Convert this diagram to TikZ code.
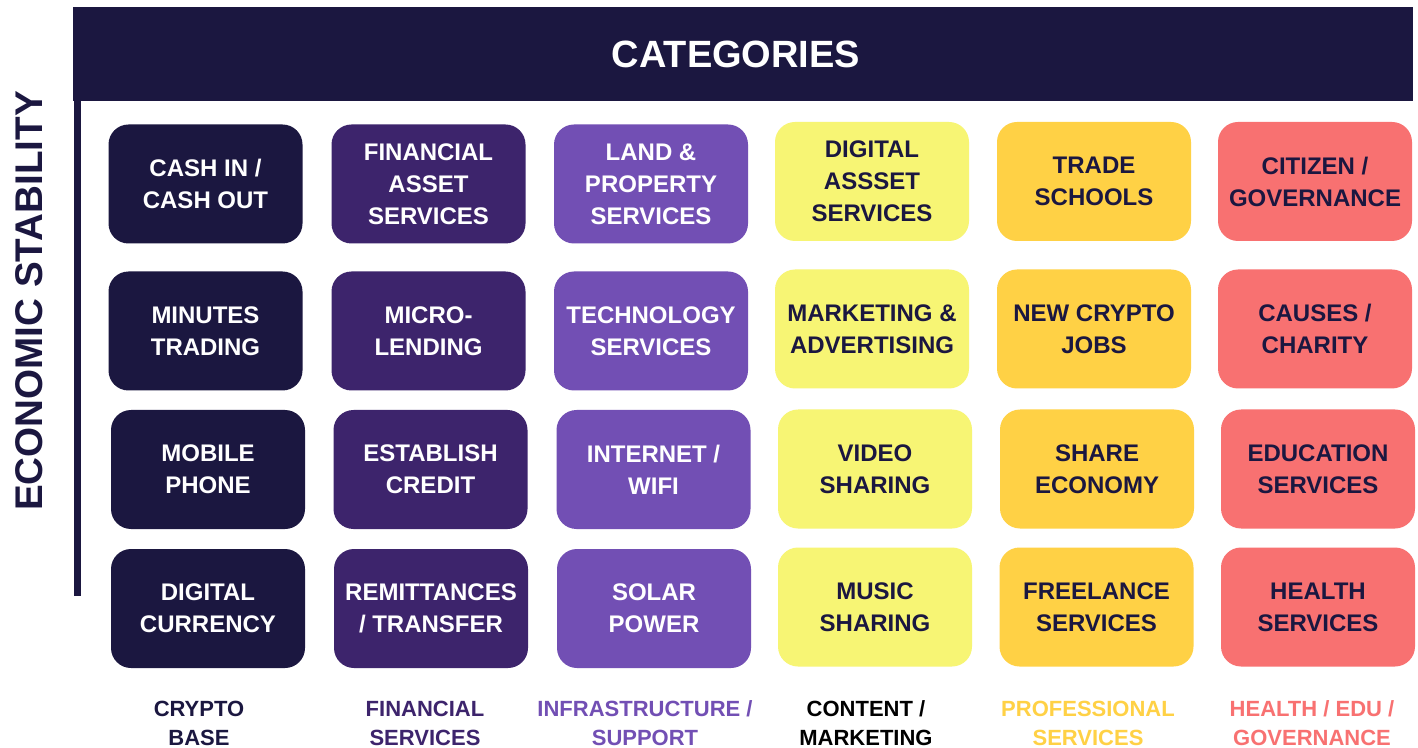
\documentclass[tikz,border=0pt]{standalone}
\usepackage{fontspec}
\setmainfont{Liberation Sans}
\definecolor{navy}{HTML}{1B1740}
\definecolor{dpurple}{HTML}{3D246C}
\definecolor{mpurple}{HTML}{724FB4}
\definecolor{yel}{HTML}{F7F574}
\definecolor{gold}{HTML}{FFD145}
\definecolor{salmon}{HTML}{F87171}
\begin{document}
\begin{tikzpicture}[x=0.5pt,y=0.5pt,
  cell/.style={rounded corners=10pt, minimum width=97pt, minimum height=59.5pt, inner sep=0pt, align=center,
    font=\fontsize{12}{16}\selectfont\bfseries},
  cA/.style={cell, fill=navy, text=white},
  cB/.style={cell, fill=dpurple, text=white},
  cC/.style={cell, fill=mpurple, text=white},
  cD/.style={cell, fill=yel, text=navy},
  cE/.style={cell, fill=gold, text=navy},
  cF/.style={cell, fill=salmon, text=navy},
  foot/.style={align=center, inner sep=0pt, font=\fontsize{11}{14.5}\selectfont\bfseries}]
\useasboundingbox (0,0) rectangle (1418,-748);
\fill[white] (0,0) rectangle (1418,-748);
% header
\node[fill=navy, minimum width=670pt, minimum height=47pt, inner sep=0pt, text=white,
  font=\fontsize{19}{19}\selectfont\bfseries] (head) at (743,-54) {CATEGORIES\hspace*{7pt}};
% vertical axis line
\coordinate (ltop) at (77,-101);
\coordinate (lbot) at (77,-596);
\draw[navy, line width=3.5pt] (ltop) -- (lbot);
\node[rotate=90, text=navy, inner sep=0pt, font=\fontsize{19.3}{19.3}\selectfont\bfseries] (axis) at (29,-301) {ECONOMIC STABILITY};
% row 1
\node[cA] (a1) at (205.5,-184) {CASH IN /\\CASH OUT};
\node[cB] (b1) at (428.5,-184) {FINANCIAL\\ASSET\\SERVICES};
\node[cC] (c1) at (651,-184) {LAND \&\\PROPERTY\\SERVICES};
\node[cD] (d1) at (872,-181.5) {DIGITAL\\ASSSET\\SERVICES};
\node[cE] (e1) at (1094,-181.5) {TRADE\\SCHOOLS};
\node[cF] (f1) at (1315,-181.5) {CITIZEN /\\GOVERNANCE};
% row 2
\node[cA] (a2) at (205.5,-331) {MINUTES\\TRADING};
\node[cB] (b2) at (428.5,-331) {MICRO-\\LENDING};
\node[cC] (c2) at (651,-331) {TECHNOLOGY\\SERVICES};
\node[cD] (d2) at (872,-329) {MARKETING \&\\ADVERTISING};
\node[cE] (e2) at (1094,-329) {NEW CRYPTO\\JOBS};
\node[cF] (f2) at (1315,-329) {CAUSES /\\CHARITY};
% row 3
\node[cA] (a3) at (208,-469.5) {MOBILE\\PHONE};
\node[cB] (b3) at (430.5,-469.5) {ESTABLISH\\CREDIT};
\node[cC] (c3) at (653.5,-469.5) {INTERNET /\\WIFI};
\node[cD] (d3) at (875,-469) {VIDEO\\SHARING};
\node[cE] (e3) at (1097,-469) {SHARE\\ECONOMY};
\node[cF] (f3) at (1318,-469) {EDUCATION\\SERVICES};
% row 4
\node[cA] (a4) at (208,-608.5) {DIGITAL\\CURRENCY};
\node[cB] (b4) at (431,-608.5) {REMITTANCES\\/ TRANSFER};
\node[cC] (c4) at (654,-608.5) {SOLAR\\POWER};
\node[cD] (d4) at (875,-607) {MUSIC\\SHARING};
\node[cE] (e4) at (1096.5,-607) {FREELANCE\\SERVICES};
\node[cF] (f4) at (1318,-607) {HEALTH\\SERVICES};
% footer labels
\node[foot, text=navy] (la) at (199,-723.5) {CRYPTO\\BASE};
\node[foot, text=dpurple] (lb) at (425,-723.5) {FINANCIAL\\SERVICES};
\node[foot, text=mpurple] (lc) at (645,-723.5) {INFRASTRUCTURE /\\SUPPORT};
\node[foot, text=black] (ld) at (866,-723.5) {CONTENT /\\MARKETING};
\node[foot, text=gold] (le) at (1088,-723.5) {PROFESSIONAL\\SERVICES};
\node[foot, text=salmon] (lf) at (1312,-723.5) {HEALTH / EDU /\\GOVERNANCE};
\end{tikzpicture}
\end{document}
